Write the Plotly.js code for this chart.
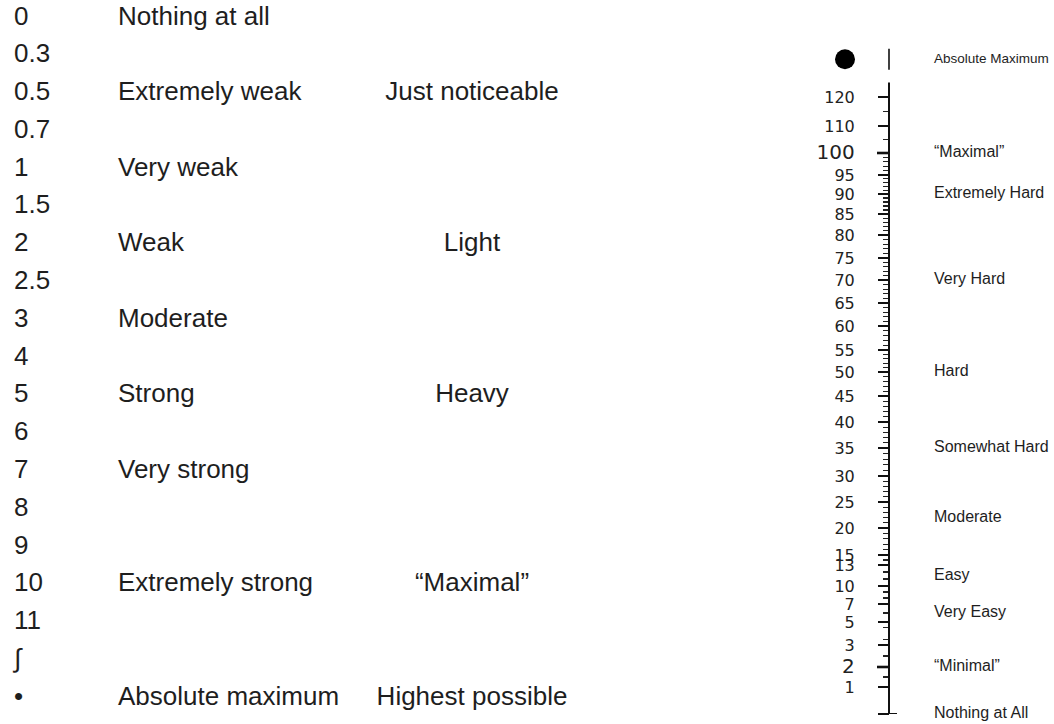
<!DOCTYPE html>
<html><head><meta charset="utf-8">
<script src="https://cdn.plot.ly/plotly-3.0.1.min.js"></script>
<style>html,body{margin:0;padding:0;background:#fff}#chart{width:1054px;height:724px}</style>
</head><body><div id="chart"></div>
<script>
// ---- Borg CR10 scale (left) ----
const cr10Numbers = ['0','0.3','0.5','0.7','1','1.5','2','2.5','3','4','5','6','7','8','9','10','11','∫','•'];
const cr10Verbal  = ['Nothing at all','','Extremely weak','','Very weak','','Weak','','Moderate','','Strong','','Very strong','','','Extremely strong','','','Absolute maximum'];
const cr10Effort  = ['','','Just noticeable','','','','Light','','','','Heavy','','','','','“Maximal”','','','Highest possible'];

// ---- Borg CR100 (centiMax) scale (right) ----
const cr100Ticks = [0,1,2,3,5,7,10,13,15,20,25,30,35,40,45,50,55,60,65,70,75,80,85,90,95,100,110,120];
// where each number sits along the printed (non-linear) ruler
const cr100Ruler = [0,27,47,69,92,110,128,149,159,186,212,238,266,292,318,342,364,388,411,434,456,479,500,520,539,561,588,617];
const cr100MinorExtra = [1.5,2.5,3.5,4.5,105,115];
const cr100RulerTop = 125;   // the ruler line ends a little above 120
const cr100Labels = ['Absolute Maximum','“Maximal”','Extremely Hard','Very Hard','Hard','Somewhat Hard','Moderate','Easy','Very Easy','“Minimal”','Nothing at All'];
const cr100LabelValues = [133,100,90,70,50,35,22,11.5,6,2,0];
const cr100AbsMax = 133;     // off-scale "absolute maximum" mark

// non-linear ruler scale: value -> ruler position
function toRuler(v){
  const t = cr100Ticks, r = cr100Ruler, n = t.length;
  let i = 0;
  if (v >= t[n-1]) i = n-2;
  else { while (i < n-2 && v > t[i+1]) i++; }
  return r[i] + (v - t[i]) * (r[i+1]-r[i]) / (t[i+1]-t[i]);
}
const minorVals = [];
for (let v = 6; v < 100; v++) if (cr100Ticks.indexOf(v) < 0) minorVals.push(v);
cr100MinorExtra.forEach(v => minorVals.push(v));

const bigTicks = [0,2,100];
const tickText = cr100Ticks.map(v => bigTicks.indexOf(v) >= 0 ? '<span style="font-size:20px">'+v+'</span>' : String(v));

const leftFont = {family:'"Liberation Sans", Arial, sans-serif', size:26, color:'#1e1e1e'};
const rightFont = '"Liberation Sans", Arial, sans-serif';
const AX_X = 889;

const traces = [
  {type:'scatter', mode:'text', x:cr10Numbers.map(()=>14), y:cr10Numbers, text:cr10Numbers,
   textposition:'middle right', textfont:leftFont, xaxis:'x', yaxis:'y', hoverinfo:'skip', cliponaxis:false},
  {type:'scatter', mode:'text', x:cr10Verbal.map(()=>118), y:cr10Numbers, text:cr10Verbal,
   textposition:'middle right', textfont:leftFont, xaxis:'x', yaxis:'y', hoverinfo:'skip', cliponaxis:false},
  {type:'scatter', mode:'text', x:cr10Effort.map(()=>472), y:cr10Numbers, text:cr10Effort,
   textposition:'middle center', textfont:leftFont, xaxis:'x', yaxis:'y', hoverinfo:'skip', cliponaxis:false},
  {type:'scatter', mode:'text', x:cr100Labels.map(()=>934), y:cr100LabelValues.map(toRuler), text:cr100Labels,
   textposition:'middle right',
   textfont:{family:rightFont, size:cr100Labels.map((s,i)=> i===0 ? 13.5 : 16), color:'#1e1e1e'},
   xaxis:'x', yaxis:'y2', hoverinfo:'skip', cliponaxis:false},
  {type:'scatter', mode:'markers', x:[845], y:[toRuler(cr100AbsMax)],
   marker:{size:20, color:'#000'}, xaxis:'x', yaxis:'y2', hoverinfo:'skip', cliponaxis:false},
  {type:'scatter', mode:'markers', x:[AX_X], y:[toRuler(cr100AbsMax)],
   marker:{symbol:'line-ns', size:15, line:{width:1.6, color:'#111'}}, xaxis:'x', yaxis:'y2', hoverinfo:'skip', cliponaxis:false}
];

const layout = {
  width:1054, height:724, margin:{l:0,r:0,t:0,b:0},
  paper_bgcolor:'#fff', plot_bgcolor:'rgba(0,0,0,0)', showlegend:false, hovermode:false,
  xaxis:{domain:[0,1], range:[0,1054], visible:false, fixedrange:true},
  yaxis:{type:'category', categoryarray:cr10Numbers, categoryorder:'array', range:[18.68,-0.476],
         domain:[0,1], visible:false, fixedrange:true},
  yaxis2:{domain:[10/724, 1], range:[0,714], anchor:'free', position:AX_X/1054, side:'left',
          showgrid:false, zeroline:false, showline:false,
          tickmode:'array', tickvals:cr100Ticks.map(toRuler), ticktext:tickText,
          ticks:'outside', ticklen:11, tickwidth:1.5, tickcolor:'#111', ticklabelstandoff:20,
          tickfont:{family:'"DejaVu Sans", Verdana, sans-serif', size:16, color:'#222'},
          minor:{tickmode:'array', tickvals:minorVals.map(toRuler), ticks:'outside', ticklen:6, tickwidth:1.2, tickcolor:'#222'},
          fixedrange:true, automargin:false},
  shapes:[
    {type:'line', xref:'x', yref:'y2', x0:AX_X, x1:AX_X, y0:toRuler(0), y1:toRuler(cr100RulerTop), line:{width:2, color:'#111'}},
    {type:'line', xref:'x', yref:'y2', x0:878, x1:897, y0:toRuler(0), y1:toRuler(0), line:{width:2, color:'#111'}},
    {type:'line', xref:'x', yref:'y2', x0:877, x1:AX_X, y0:toRuler(2), y1:toRuler(2), line:{width:2.6, color:'#111'}},
    {type:'line', xref:'x', yref:'y2', x0:877, x1:AX_X, y0:toRuler(100), y1:toRuler(100), line:{width:2.6, color:'#111'}}
  ]
};
Plotly.newPlot('chart', traces, layout, {displayModeBar:false, staticPlot:true});
</script></body></html>
